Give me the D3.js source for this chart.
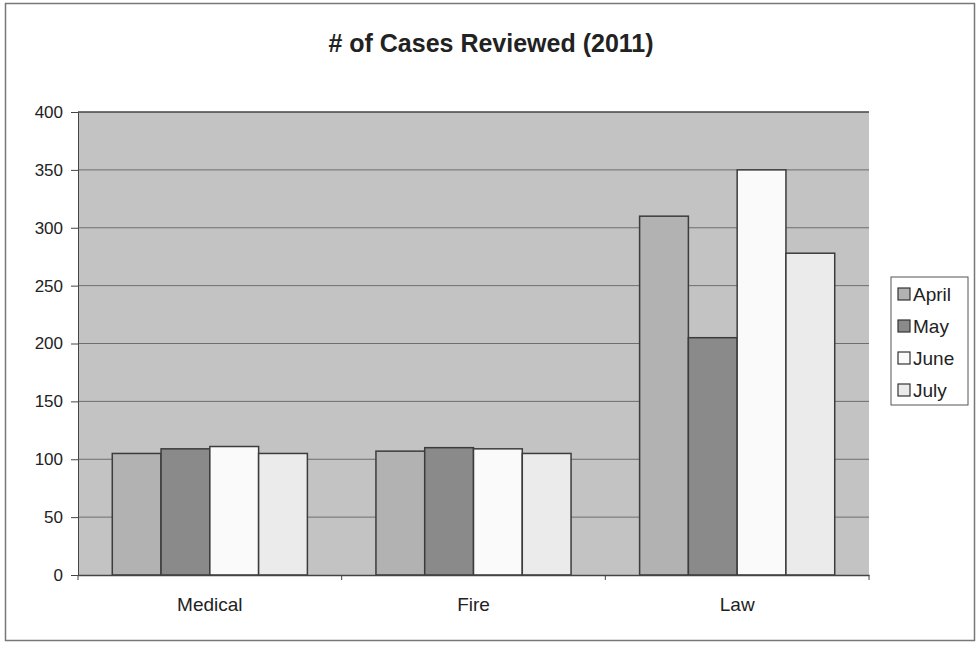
<!DOCTYPE html>
<html>
<head>
<meta charset="utf-8">
<script src="https://cdn.jsdelivr.net/npm/d3@7"></script>
<style>
  body { margin: 0; background: #fff; }
  text { font-family: "Liberation Sans", Arial, sans-serif; fill: #222; }
</style>
</head>
<body>
<svg width="978" height="649"></svg>
<script>
var categories = ["Medical", "Fire", "Law"];
var months = ["April", "May", "June", "July"];
var april = [105, 107, 310];
var may = [109, 110, 205];
var june = [111, 109, 350];
var july = [105, 105, 278];
var yTicks = [0, 50, 100, 150, 200, 250, 300, 350, 400];
var fills = ["#b2b2b2", "#8a8a8a", "#fafafa", "#ebebeb"];

var series = [april, may, june, july];

var svg = d3.select("svg"),
    margin = { top: 112, right: 109, bottom: 74, left: 78 },
    width = +svg.attr("width") - margin.left - margin.right,
    height = +svg.attr("height") - margin.top - margin.bottom;

// outer frame
svg.append("rect")
    .attr("x", 5.5).attr("y", 3.5)
    .attr("width", 969).attr("height", 637)
    .attr("fill", "#fff").attr("stroke", "#777").attr("stroke-width", 1.5);

svg.append("text")
    .attr("x", 491).attr("y", 52)
    .attr("text-anchor", "middle")
    .style("font-size", "25px").style("font-weight", "bold")
    .text("# of Cases Reviewed (2011)");

var g = svg.append("g").attr("transform", "translate(" + margin.left + "," + margin.top + ")");

var x0 = d3.scaleBand().domain(categories).range([0, width]).paddingInner(0.26).paddingOuter(0.13);
var x1 = d3.scaleBand().domain(months).range([0, x0.bandwidth()]);
var y = d3.scaleLinear().domain([0, 400]).range([height, 0]);

// plot background
g.append("rect")
    .attr("width", width).attr("height", height)
    .attr("fill", "#c3c3c3");

// grid
g.selectAll("line.grid")
    .data(yTicks.slice(1))
    .enter().append("line")
    .attr("class", "grid")
    .attr("x1", 0).attr("x2", width)
    .attr("y1", function (d) { return y(d); })
    .attr("y2", function (d) { return y(d); })
    .attr("stroke", function (d) { return d === 400 ? "#444" : "#6e6e6e"; })
    .attr("stroke-width", function (d) { return d === 400 ? 1.5 : 1; });

// bars
var groups = g.selectAll("g.cat")
    .data(categories)
    .enter().append("g")
    .attr("class", "cat")
    .attr("transform", function (d) { return "translate(" + x0(d) + ",0)"; });

groups.selectAll("rect")
    .data(function (c, i) { return months.map(function (m, j) { return { month: m, value: series[j][i], idx: j }; }); })
    .enter().append("rect")
    .attr("x", function (d) { return x1(d.month); })
    .attr("y", function (d) { return y(d.value); })
    .attr("width", x1.bandwidth())
    .attr("height", function (d) { return height - y(d.value); })
    .attr("fill", function (d) { return fills[d.idx]; })
    .attr("stroke", "#3c3c3c")
    .attr("stroke-width", 1.5);

// y axis
var yAxis = g.append("g")
    .call(d3.axisLeft(y).tickValues(yTicks).tickSize(7).tickPadding(8));
yAxis.select(".domain").attr("stroke", "#444");
yAxis.selectAll(".tick line").attr("stroke", "#444");
yAxis.selectAll("text").style("font-size", "17px");

// x axis
var xAxis = g.append("g")
    .attr("transform", "translate(0," + height + ")")
    .call(d3.axisBottom(x0).tickSize(0).tickPadding(23));
xAxis.select(".domain").attr("stroke", "#444").attr("stroke-width", 1.5);
xAxis.selectAll("text").style("font-size", "19px");

var step = width / categories.length;
g.selectAll("line.xtick")
    .data(d3.range(categories.length + 1))
    .enter().append("line")
    .attr("class", "xtick")
    .attr("x1", function (d) { return d * step; })
    .attr("x2", function (d) { return d * step; })
    .attr("y1", height).attr("y2", height + 5)
    .attr("stroke", "#444");

// legend
var legend = svg.append("g").attr("transform", "translate(891,277)");
legend.append("rect")
    .attr("width", 77).attr("height", 128)
    .attr("fill", "#fff").attr("stroke", "#555").attr("stroke-width", 1);

var items = legend.selectAll("g.item")
    .data(months)
    .enter().append("g")
    .attr("class", "item")
    .attr("transform", function (d, i) { return "translate(7," + (17 + i * 32) + ")"; });

items.append("rect")
    .attr("x", 0).attr("y", -6)
    .attr("width", 12).attr("height", 12)
    .attr("fill", function (d, i) { return fills[i]; })
    .attr("stroke", "#333").attr("stroke-width", 1.2);

items.append("text")
    .attr("x", 15).attr("y", 7)
    .style("font-size", "19px")
    .text(function (d) { return d; });
</script>
</body>
</html>
